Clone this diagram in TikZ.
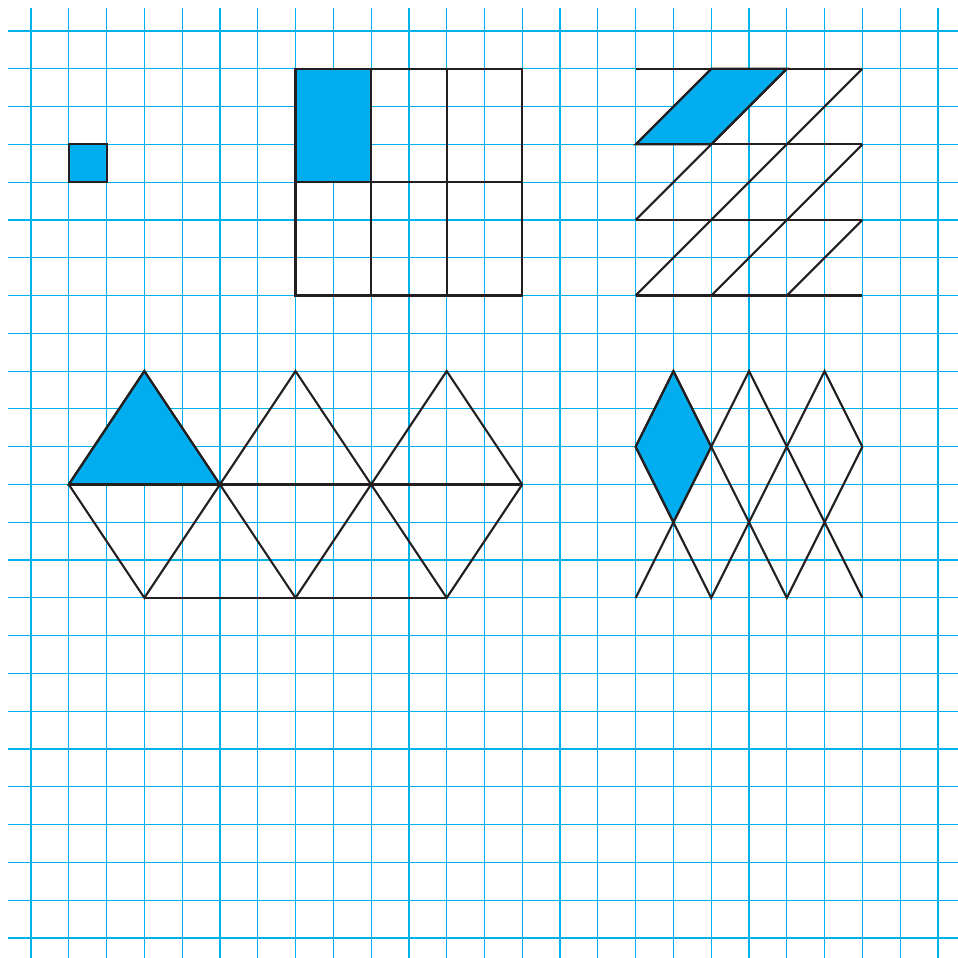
\documentclass[tikz,border=0pt]{standalone}
\begin{document}
\begin{tikzpicture}[x=1cm,y=-1cm,
  gridline/.style={draw=gridcyan,line width=0.9pt},
  inkline/.style={draw=inkdark,line width=1.6pt,line join=miter},
  inkfill/.style={inkline,fill=fillcyan}]
\definecolor{gridcyan}{RGB}{0,178,235}
\definecolor{fillcyan}{RGB}{0,174,239}
\definecolor{inkdark}{RGB}{35,31,32}
\useasboundingbox[fill=white] (-0.820,-0.820) rectangle (24.530,24.530);
% grid
\foreach \i in {0,...,24} {
  \draw[gridline] (\i,-0.61) -- (\i,24.6);
  \draw[gridline] (-0.61,\i) -- (24.6,\i);
}
% small square
\draw[inkfill] (1,3) rectangle (2,4);
% 3x3 rectangles
\draw[inkfill] (7,1) rectangle (9,4);
\draw[inkline] (7,1) rectangle (13,7);
\draw[inkline] (9,1) -- (9,7) (11,1) -- (11,7) (7,4) -- (13,4);
% parallelograms
\draw[inkfill] (18,1) -- (20,1) -- (18,3) -- (16,3) -- cycle;
\foreach \r in {1,3,5,7} \draw[inkline] (16,\r) -- (22,\r);
\foreach \r in {1,3,5} {
  \draw[inkline] (16,\r+2) -- (18,\r);
  \draw[inkline] (18,\r+2) -- (20,\r);
  \draw[inkline] (20,\r+2) -- (22,\r);
}
% triangles
\draw[inkfill] (1,12) -- (3,9) -- (5,12) -- cycle;
\draw[inkline] (1,12) -- (3,9) -- (5,12) -- (7,9) -- (9,12) -- (11,9) -- (13,12);
\draw[inkline] (1,12) -- (13,12);
\draw[inkline] (1,12) -- (3,15) -- (5,12) -- (7,15) -- (9,12) -- (11,15) -- (13,12);
\draw[inkline] (3,15) -- (11,15);
% rhombi
\draw[inkfill] (17,9) -- (18,11) -- (17,13) -- (16,11) -- cycle;
\draw[inkline] (16,11) -- (17,9) -- (18,11) -- (19,9) -- (20,11) -- (21,9) -- (22,11);
\draw[inkline] (16,11) -- (17,13) -- (18,11) -- (19,13) -- (20,11) -- (21,13) -- (22,11);
\draw[inkline] (16,15) -- (17,13) -- (18,15) -- (19,13) -- (20,15) -- (21,13) -- (22,15);
\end{tikzpicture}
\end{document}
